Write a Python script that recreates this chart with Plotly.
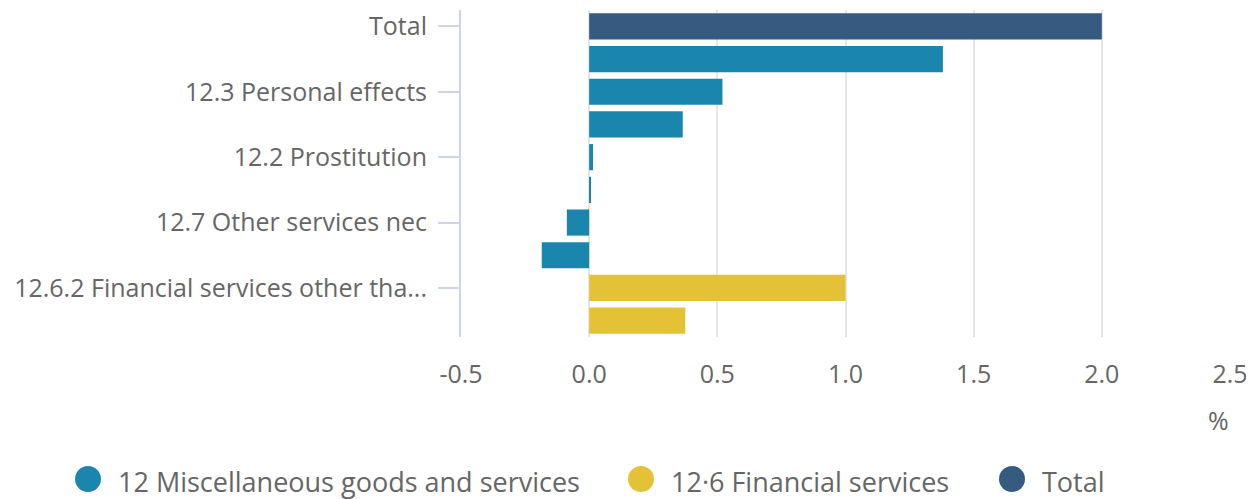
import plotly.graph_objects as go

categories = [
    "Total",
    "12 Miscellaneous goods and services",
    "12.3 Personal effects",
    "12.1 Personal care",
    "12.2 Prostitution",
    "12.4 Social protection",
    "12.7 Other services nec",
    "12.5 Insurance",
    "12.6.2 Financial services other than FISIM",
    "12.6.1 FISIM",
]
series_of = ["Total", "misc", "misc", "misc", "misc", "misc", "misc", "misc", "fin", "fin"]
values = [2.0, 1.38, 0.52, 0.365, 0.015, 0.006, -0.087, -0.185, 1.0, 0.375]

series_names = {
    "misc": "12 Miscellaneous goods and services",
    "fin": "12·6 Financial services",
    "Total": "Total",
}
series_colors = {"misc": "#1a86ad", "fin": "#e4c236", "Total": "#375b80"}
series_order = ["misc", "fin", "Total"]

shown_ticks = [categories[i] for i in range(0, len(categories), 2)]
shown_text = ["Total", "12.3 Personal effects", "12.2 Prostitution",
              "12.7 Other services nec", "12.6.2 Financial services other tha..."]

x_ticks = [-0.5, 0.0, 0.5, 1.0, 1.5, 2.0, 2.5]

# layout geometry; the page body offsets the figure by 8 px
OFF = 8
W, H = 1254, 499
PLOT_X0, PLOT_X1, PLOT_Y0, PLOT_Y1 = 461, 1230, 10, 337  # in page pixels
L, R = PLOT_X0 - OFF, W - (PLOT_X1 - OFF)
T, B = PLOT_Y0 - OFF, H - (PLOT_Y1 - OFF)
PW, PH = PLOT_X1 - PLOT_X0, PLOT_Y1 - PLOT_Y0

def px_x(p):
    return (p - PLOT_X0) / PW

def px_y(p):
    return (PLOT_Y1 - p) / PH

fig = go.Figure()
for s in series_order:
    ys = [c for c, k in zip(categories, series_of) if k == s]
    xs = [v for v, k in zip(values, series_of) if k == s]
    fig.add_trace(go.Bar(
        y=ys, x=xs, orientation="h", name=series_names[s],
        marker=dict(color=series_colors[s], line=dict(width=0)),
        showlegend=False,
    ))

# custom legend (circles + labels) below the plot
legend_circle_px = [88, 641, 1012]
legend_y_px = 479
shapes = []
annotations = []
for s, cx in zip(series_order, legend_circle_px):
    shapes.append(dict(
        type="circle", xref="paper", yref="paper",
        xsizemode="pixel", ysizemode="pixel",
        xanchor=px_x(cx), yanchor=px_y(legend_y_px),
        x0=-13, x1=13, y0=-13, y1=13,
        fillcolor=series_colors[s], line=dict(width=0),
    ))
    annotations.append(dict(
        text=series_names[s], xref="paper", yref="paper",
        x=px_x(cx + 28), y=px_y(legend_y_px + 2),
        xanchor="left", yanchor="middle", showarrow=False,
        font=dict(size=27, color="#666666"),
    ))
annotations.append(dict(
    text="%", xref="paper", yref="paper", x=px_x(1218), y=px_y(420),
    xanchor="center", yanchor="middle", showarrow=False,
    font=dict(size=25, color="#666666"),
))

fig.update_layout(
    width=W, height=H,
    margin=dict(l=L, r=R, t=T, b=B),
    paper_bgcolor="white", plot_bgcolor="white",
    barmode="overlay", bargap=0.2,
    font=dict(family="Open Sans, sans-serif", color="#666666", size=25),
    showlegend=False,
    xaxis=dict(
        range=[-0.5, 2.5], tickvals=x_ticks, ticktext=[f"{t:.1f}" for t in x_ticks],
        showgrid=True, gridcolor="#e6e6e6", gridwidth=2,
        zeroline=True, zerolinecolor="#e6e6e6", zerolinewidth=2,
        showline=False, ticks="", ticklabelstandoff=20, automargin=False,
        tickfont=dict(size=25, color="#666666"),
    ),
    yaxis=dict(
        type="category", categoryorder="array", categoryarray=categories,
        autorange="reversed",
        tickvals=shown_ticks, ticktext=shown_text,
        showline=True, linecolor="#ccd6eb", linewidth=2,
        ticks="outside", ticklen=21, tickcolor="#ccd6eb", tickwidth=2,
        ticklabelstandoff=6, showgrid=False, zeroline=False, automargin=False,
        tickfont=dict(size=25, color="#666666"),
    ),
    shapes=shapes,
    annotations=annotations,
)

fig.write_html("out.html")
